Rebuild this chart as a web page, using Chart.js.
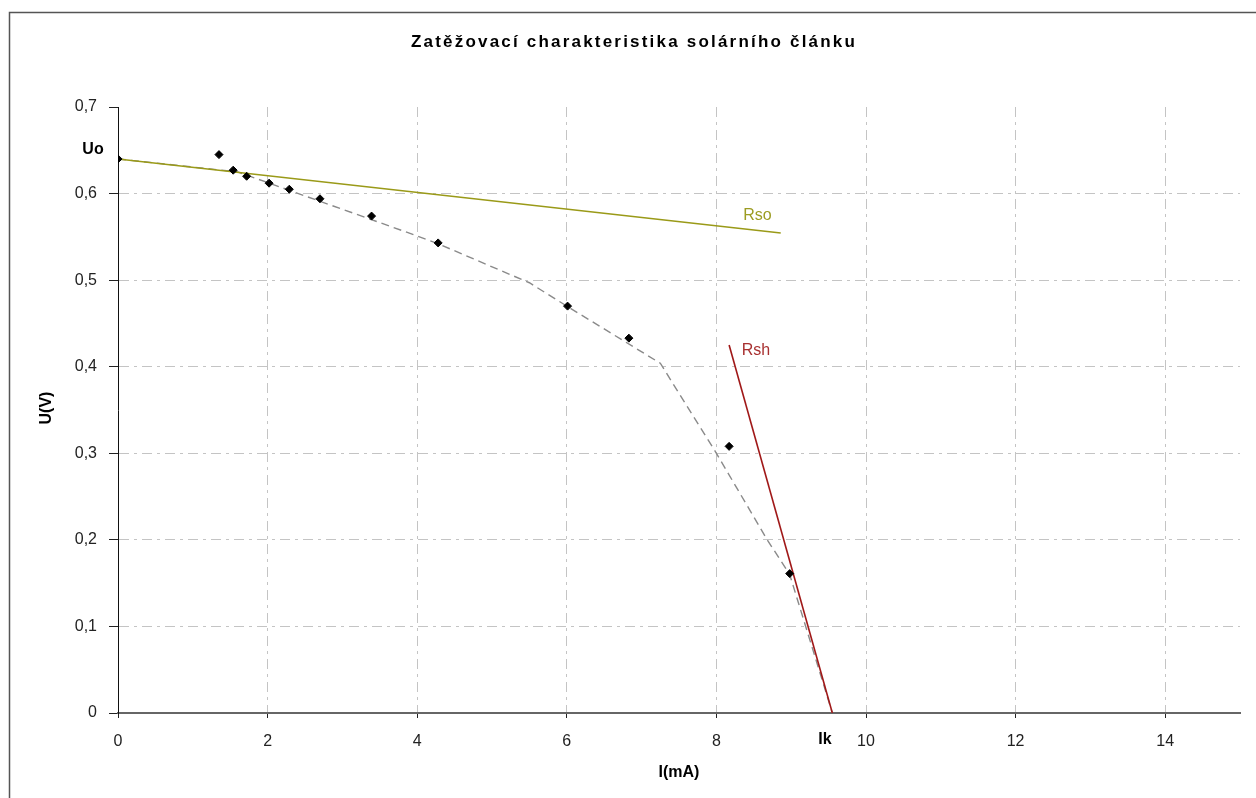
<!DOCTYPE html>
<html>
<head>
<meta charset="utf-8">
<script src="https://cdn.jsdelivr.net/npm/chart.js@4"></script>
<style>
html, body { margin: 0; background: #fff; }
</style>
</head>
<body>
<canvas id="graf" width="1256" height="798"></canvas>
<script>
// Naměřené body
const proudMer = [0, 1.35, 1.54, 1.72, 2.02, 2.29, 2.70, 3.39, 4.28, 6.01, 6.83, 8.17, 8.98];
const napetiMer = [0.640, 0.645, 0.627, 0.620, 0.612, 0.605, 0.594, 0.574, 0.543, 0.470, 0.433, 0.308, 0.161];
// Ručně vedená křivka
const proudKrivka = [0, 1.6, 3.84, 4.28, 5.5, 6.0, 7.25, 8.0, 8.68, 8.98, 9.55];
const napetiKrivka = [0.640, 0.625, 0.556, 0.542, 0.497, 0.470, 0.404, 0.300, 0.200, 0.160, 0.0];
// Tečny
const proudRso = [0, 8.86];
const napetiRso = [0.640, 0.5545];
const proudRsh = [8.17, 9.55];
const napetiRsh = [0.425, 0.0];
// Osy
const xTicks = [0, 2, 4, 6, 8, 10, 12, 14];
const yTicks = [0, 0.1, 0.2, 0.3, 0.4, 0.5, 0.6, 0.7];

const body = (xs, ys) => xs.map((x, i) => ({ x: x, y: ys[i] }));
const pismo = "'Liberation Sans', Arial, sans-serif";

const popisky = {
    id: 'popisky',
    beforeDraw(chart) {
        const ctx = chart.ctx;
        ctx.save();
        ctx.fillStyle = '#fff';
        ctx.fillRect(0, 0, chart.width, chart.height);
        ctx.strokeStyle = '#555';
        ctx.lineWidth = 1.5;
        ctx.strokeRect(9.5, 12.5, 1400, 900);
        ctx.restore();
    },
    afterDatasetsDraw(chart) {
        const ctx = chart.ctx;
        const sx = chart.scales.x, sy = chart.scales.y;
        ctx.save();
        ctx.textAlign = 'center';
        ctx.textBaseline = 'middle';
        ctx.fillStyle = '#000';
        ctx.font = 'bold 17px ' + pismo;
        ctx.letterSpacing = '2.2px';
        ctx.fillText('Zatěžovací charakteristika solárního článku', 634, 42);
        ctx.letterSpacing = '0px';

        ctx.font = 'bold 16px ' + pismo;
        ctx.fillText('I(mA)', 679, 773);
        ctx.fillText('Uo', 93, 150);
        ctx.fillText('Ik', 825, 740);
        ctx.save();
        ctx.translate(47, 408);
        ctx.rotate(-Math.PI / 2);
        ctx.fillText('U(V)', 0, 0);
        ctx.restore();

        ctx.font = '16px ' + pismo;
        ctx.fillStyle = '#9c9c22';
        ctx.fillText('Rso', sx.getPixelForValue(8.55), sy.getPixelForValue(0.575));
        ctx.fillStyle = '#a83030';
        ctx.fillText('Rsh', sx.getPixelForValue(8.53), sy.getPixelForValue(0.419));
        ctx.restore();
    }
};

const barvaMrizky = ctx => (ctx.tick && (ctx.tick.value === 0 || ctx.tick.value === 0.7)) ? 'rgba(0,0,0,0)' : '#c4c4c4';

window.onload = function() {
    new Chart(document.getElementById('graf'), {
        type: 'scatter',
        data: {
            datasets: [{
                label: 'měření',
                data: body(proudMer, napetiMer),
                showLine: false,
                pointStyle: 'rectRot',
                pointRadius: 4,
                backgroundColor: '#000',
                borderColor: '#000',
                order: 0
            }, {
                label: 'křivka',
                data: body(proudKrivka, napetiKrivka),
                showLine: true,
                borderColor: '#8a8a8a',
                borderWidth: 1.4,
                borderDash: [8, 5],
                pointRadius: 0,
                order: 3
            }, {
                label: 'Rso',
                data: body(proudRso, napetiRso),
                showLine: true,
                borderColor: '#9a9a18',
                borderWidth: 1.6,
                pointRadius: 0,
                order: 2
            }, {
                label: 'Rsh',
                data: body(proudRsh, napetiRsh),
                showLine: true,
                borderColor: '#a01818',
                borderWidth: 1.6,
                pointRadius: 0,
                order: 1
            }]
        },
        options: {
            responsive: false,
            animation: false,
            layout: { padding: { top: 107, right: 16, left: 0, bottom: 0 } },
            plugins: {
                legend: { display: false },
                title: { display: false },
                tooltip: { enabled: false }
            },
            scales: {
                x: {
                    type: 'linear',
                    min: 0,
                    max: 15,
                    afterFit: s => { s.height = 85; },
                    afterBuildTicks: s => { s.ticks = xTicks.map(v => ({ value: v })); },
                    border: { display: true, color: '#666', width: 2, dash: [10, 5, 3, 5] },
                    grid: { color: barvaMrizky, lineWidth: 1, tickLength: 5, tickColor: '#222' },
                    ticks: {
                        color: '#222',
                        padding: 14,
                        font: { family: pismo, size: 16 },
                        callback: v => String(v)
                    }
                },
                y: {
                    type: 'linear',
                    min: 0,
                    max: 0.7,
                    afterFit: s => { s.width = 118; },
                    afterBuildTicks: s => { s.ticks = yTicks.map(v => ({ value: v })); },
                    border: { display: true, color: '#111', width: 1, dash: [10, 5, 3, 5] },
                    grid: { color: barvaMrizky, lineWidth: 1, tickLength: 9, tickColor: '#222' },
                    ticks: {
                        color: '#222',
                        padding: 12,
                        font: { family: pismo, size: 16 },
                        callback: v => v === 0 ? '0' : Number(v).toFixed(1).replace('.', ',')
                    }
                }
            }
        },
        plugins: [popisky]
    });
};
</script>
</body>
</html>
